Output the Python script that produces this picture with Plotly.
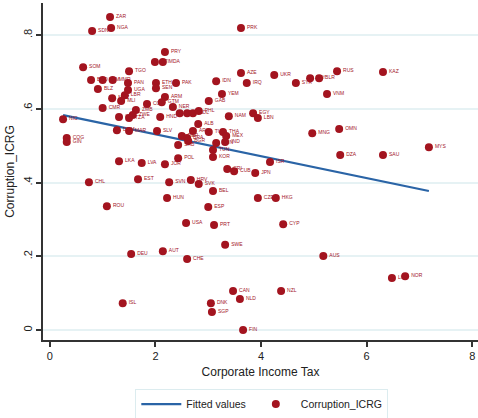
import plotly.graph_objects as go

# Data
countries = ["ZAR","NGA","SDN","PRK","PRY","HTI","MDA","SOM","TGO","BGD",
             "KHM","MMR","PAN","ETH","SEN","PAK","BLZ","MOZ","UGA","LBR",
             "MLI","ARM","GTM","COL","CMR","NER","ZMB","ZWE","TZA","GHA",
             "HND","NIC","MWI","ECU","BOL","PHL","GAB","IDN","YEM","IRQ",
             "AZE","UKR","SYR","LBY","BLR","RUS","KAZ","VNM","NAM","EGY",
             "LBN","DOM","MAR","SLV","COG","GIN","PER","BRA","ALB","ARG",
             "TUR","THA","MEX","IND","CHN","SRB","BGR","TUN","KOR","LKA",
             "LVA","JOR","POL","CRI","CUB","JPN","ISR","MNG","OMN","DZA",
             "SAU","MYS","CHL","EST","SVN","HRV","SVK","BEL","HUN","CZE",
             "HKG","ROU","ESP","USA","PRT","CYP","SWE","DEU","AUT","CHE",
             "AUS","LUX","NOR","CAN","NZL","NLD","DNK","SGP","ISL","FIN"]

corp_tax = [1.14,1.16,0.80,3.62,2.18,1.99,2.14,0.63,1.50,0.78,
            1.00,1.19,1.48,2.01,2.01,2.39,0.91,1.18,1.48,1.42,
            1.35,2.18,2.12,1.84,1.00,2.33,1.63,1.57,1.50,1.31,
            2.09,0.25,2.46,2.60,2.71,2.82,3.01,3.15,3.26,3.73,
            3.62,4.25,4.66,4.93,5.10,5.44,6.31,5.25,3.39,3.85,
            3.94,1.27,1.50,2.03,0.32,0.32,2.50,2.60,2.81,2.71,
            3.01,3.28,3.34,3.32,3.15,2.43,2.62,3.09,3.09,1.31,
            1.74,2.18,2.43,3.36,3.49,3.89,4.17,4.97,5.48,5.50,
            6.31,7.18,0.74,1.67,2.26,2.67,2.82,3.09,2.22,3.94,
            4.28,1.08,3.00,2.58,3.11,4.42,3.32,1.54,2.14,2.60,
            5.18,6.48,6.73,3.47,4.38,3.60,3.05,3.07,1.38,3.66]

corruption = [0.849,0.819,0.811,0.819,0.754,0.727,0.727,0.713,0.702,0.678,
              0.678,0.678,0.670,0.670,0.656,0.670,0.654,0.629,0.651,0.637,
              0.621,0.632,0.618,0.613,0.602,0.605,0.597,0.583,0.575,0.578,
              0.578,0.572,0.588,0.588,0.588,0.594,0.621,0.675,0.640,0.670,
              0.697,0.692,0.670,0.683,0.683,0.702,0.700,0.640,0.580,0.588,
              0.575,0.542,0.540,0.540,0.521,0.510,0.526,0.521,0.559,0.540,
              0.537,0.537,0.526,0.510,0.507,0.502,0.513,0.488,0.469,0.458,
              0.453,0.450,0.466,0.437,0.431,0.426,0.456,0.534,0.545,0.475,
              0.475,0.496,0.401,0.409,0.401,0.407,0.396,0.377,0.358,0.358,
              0.358,0.336,0.334,0.290,0.285,0.287,0.231,0.206,0.214,0.193,
              0.201,0.141,0.146,0.106,0.106,0.084,0.073,0.049,0.073,0.000]

fit_x = [0.25, 7.18]
fit_y = [0.583, 0.377]

y_tickvals = [0, 0.2, 0.4, 0.6, 0.8]
y_ticktext = ["0", ".2", ".4", ".6", ".8"]
x_tickvals = [0, 2, 4, 6, 8]

red = "#a3141f"

fig = go.Figure()
fig.add_trace(go.Scatter(
    x=fit_x, y=fit_y, mode="lines", name="Fitted values",
    line=dict(color="#2a64a6", width=2.2)))
fig.add_trace(go.Scatter(
    x=corp_tax, y=corruption, mode="markers+text", name="Corruption_ICRG",
    text=countries, textposition="middle right",
    textfont=dict(size=5, color=red, family="Liberation Sans"),
    marker=dict(color=red, size=8, line=dict(width=0))))

fig.update_layout(
    template="none",
    width=478, height=418,
    margin=dict(l=43, r=0, t=3, b=78, autoexpand=False),
    paper_bgcolor="white", plot_bgcolor="white",
    font=dict(family="Liberation Sans", color="#222222", size=11),
    showlegend=True,
    legend=dict(orientation="h", x=0.503, xanchor="center", y=-0.19, yanchor="middle",
                bordercolor="#dcecef", borderwidth=1, bgcolor="white",
                font=dict(size=10.5), itemwidth=40),
    xaxis=dict(range=[-0.13, 8.11], tickvals=x_tickvals, showgrid=False, zeroline=False,
               automargin=False, ticklabeloverflow="allow",
               showline=True, linecolor="#333333", linewidth=2,
               ticks="outside", ticklen=5, tickwidth=1.5, tickcolor="#333333",
               title=dict(text="Corporate Income Tax", font=dict(size=12), standoff=6),
               tickfont=dict(size=11)),
    yaxis=dict(range=[-0.027, 0.887], tickvals=y_tickvals, ticktext=y_ticktext,
               automargin=False,
               tickangle=-90, showgrid=True, gridcolor="#e6f2f4", gridwidth=2,
               zeroline=False, showline=True, linecolor="#333333", linewidth=2,
               ticks="outside", ticklen=5, tickwidth=1.5, tickcolor="#333333",
               title=dict(text="Corruption_ICRG", font=dict(size=12), standoff=4),
               tickfont=dict(size=11)),
)

fig.write_html("out.html",
               config={"displayModeBar": False},
               post_script="document.body.style.margin='0';document.body.style.overflow='hidden';")
